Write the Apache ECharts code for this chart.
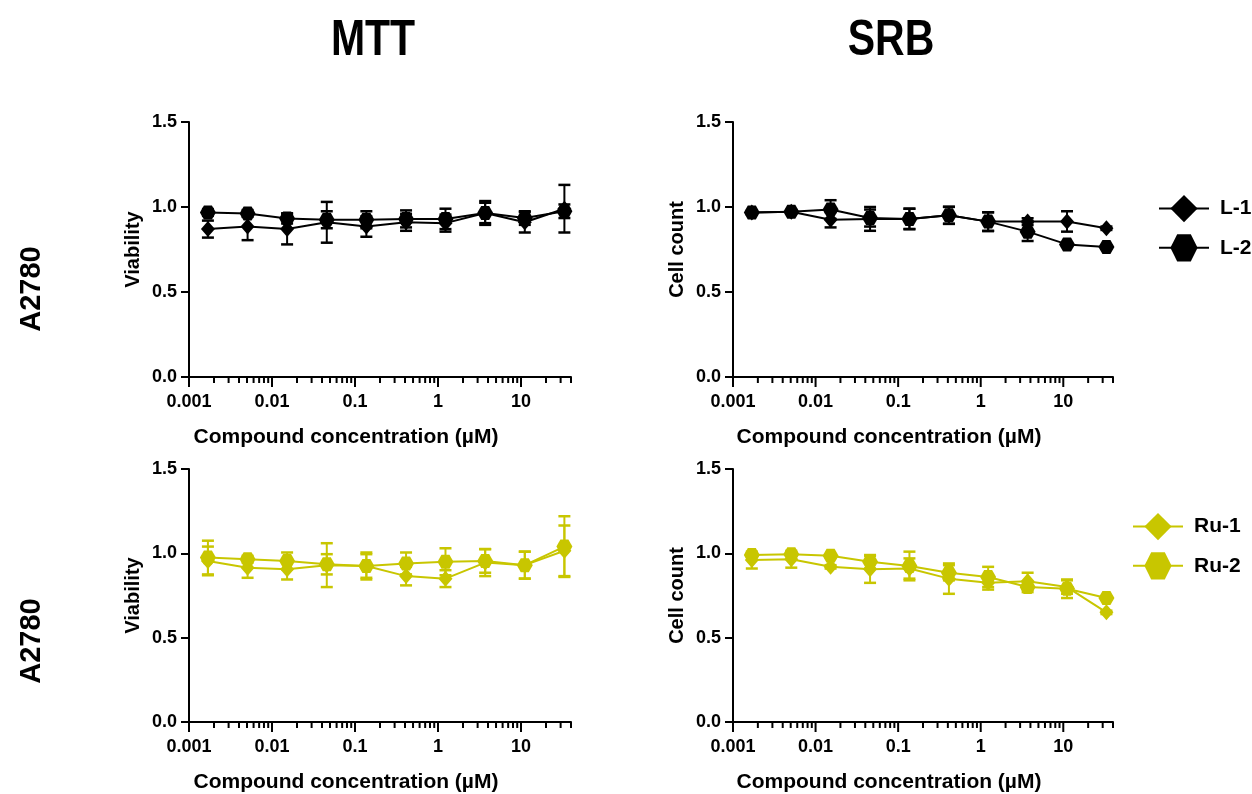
<!DOCTYPE html>
<html><head><meta charset="utf-8">
<script src="https://cdn.jsdelivr.net/npm/echarts@6/dist/echarts.min.js"></script>
<style>html,body{margin:0;padding:0;background:#fff}#c{width:1252px;height:794px}</style>
</head><body><div id="c"></div>
<script>
// ---- data ----
const conc = [0.00169, 0.00508, 0.0152, 0.0457, 0.137, 0.412, 1.23, 3.70, 11.1, 33.3];
const xTickLabels = [0.001, 0.01, 0.1, 1, 10];
const yTickLabels = ['0.0', '0.5', '1.0', '1.5'];
const colTitles = ['MTT', 'SRB'];
const rowTitles = ['A2780', 'A2780'];
const xTitle = 'Compound concentration (µM)';

const mttL1    = [0.87, 0.885, 0.87, 0.91, 0.885, 0.91, 0.905, 0.965, 0.91, 0.99];
const mttL1Err = [0.05, 0.08, 0.09, 0.12, 0.06, 0.05, 0.05, 0.07, 0.06, 0.14];
const mttL2    = [0.968, 0.962, 0.933, 0.925, 0.925, 0.93, 0.93, 0.965, 0.935, 0.975];
const mttL2Err = [0.02, 0.02, 0.03, 0.05, 0.05, 0.05, 0.06, 0.06, 0.04, 0.04];

const srbL1    = [0.967, 0.972, 0.925, 0.93, 0.93, 0.951, 0.914, 0.914, 0.915, 0.875];
const srbL1Err = [0.01, 0.01, 0.045, 0.07, 0.06, 0.05, 0.055, 0.02, 0.06, 0.01];
const srbL2    = [0.967, 0.972, 0.985, 0.935, 0.93, 0.951, 0.914, 0.855, 0.78, 0.765];
const srbL2Err = [0.01, 0.01, 0.055, 0.05, 0.06, 0.05, 0.055, 0.055, 0.01, 0.01];

const mttRu1    = [0.955, 0.915, 0.905, 0.93, 0.925, 0.865, 0.85, 0.945, 0.93, 1.015];
const mttRu1Err = [0.085, 0.06, 0.06, 0.13, 0.07, 0.055, 0.05, 0.08, 0.08, 0.15];
const mttRu2    = [0.975, 0.965, 0.955, 0.935, 0.925, 0.94, 0.95, 0.955, 0.93, 1.04];
const mttRu2Err = [0.10, 0.02, 0.05, 0.06, 0.08, 0.065, 0.08, 0.07, 0.08, 0.18];

const srbRu1    = [0.96, 0.965, 0.92, 0.905, 0.91, 0.85, 0.825, 0.835, 0.80, 0.65];
const srbRu1Err = [0.05, 0.05, 0.01, 0.08, 0.06, 0.09, 0.04, 0.05, 0.04, 0.01];
const srbRu2    = [0.99, 0.995, 0.985, 0.95, 0.925, 0.885, 0.86, 0.80, 0.79, 0.735];
const srbRu2Err = [0.01, 0.01, 0.01, 0.04, 0.085, 0.045, 0.06, 0.03, 0.055, 0.01];

// ---- styling ----
const FONT = '"Liberation Sans", Arial, sans-serif';
const BLACK = '#000000';
const YEL = '#c8c600';
const HEX = 'path://M-1,0 L-0.5,-0.866 L0.5,-0.866 L1,0 L0.5,0.866 L-0.5,0.866 Z';

const minorTicks = [];
[0.001, 0.01, 0.1, 1, 10].forEach(d => { for (let k = 2; k <= 9; k++) { const v = +(d * k).toPrecision(3); if (v <= 40) minorTicks.push(v); } });

const grids = [
  {left: 189, top: 122, width: 382, height: 255},
  {left: 733, top: 122, width: 380, height: 255},
  {left: 189, top: 469, width: 382, height: 255},
  {left: 733, top: 469, width: 380, height: 255}
];
const yNames = ['Viability', 'Cell count', 'Viability', 'Cell count'];

const xAxes = grids.map((g, i) => ({
  type: 'log', gridIndex: i, min: 0.001, max: 40, logBase: 10,
  name: xTitle, nameLocation: 'middle', nameGap: 50,
  nameTextStyle: {fontFamily: FONT, fontWeight: 'bold', fontSize: 21, color: '#000', padding: [0, 68, 0, 0]},
  axisLine: {lineStyle: {color: '#000', width: 2}},
  axisTick: {show: false},
  splitLine: {show: false},
  axisLabel: {
    fontFamily: FONT, fontWeight: 'bold', fontSize: 18, color: '#000', margin: 16,
    showMaxLabel: false,
    formatter: v => { const s = String(+(+v).toPrecision(6)); return xTickLabels.map(String).indexOf(s) >= 0 ? s : ''; }
  }
}));
const yAxes = grids.map((g, i) => ({
  type: 'value', gridIndex: i, min: 0, max: 1.5, interval: 0.5,
  name: yNames[i], nameLocation: 'middle', nameGap: 46,
  nameTextStyle: {fontFamily: FONT, fontWeight: 'bold', fontSize: 20, color: '#000'},
  axisLine: {show: true, lineStyle: {color: '#000', width: 2}},
  axisTick: {show: true, length: 8, lineStyle: {color: '#000', width: 2}},
  splitLine: {show: false},
  axisLabel: {fontFamily: FONT, fontWeight: 'bold', fontSize: 18, color: '#000', margin: 12,
    formatter: v => yTickLabels[Math.round(v / 0.5)]}
}));

function tickSeries(i, vals, len) {
  return {
    type: 'custom', xAxisIndex: i, yAxisIndex: i, silent: true, clip: false, z: 5,
    data: vals.map(v => [v, 0]),
    renderItem: (params, api) => {
      const p = api.coord([api.value(0), 0]);
      return {type: 'line', shape: {x1: p[0], y1: p[1], x2: p[0], y2: p[1] + len},
        style: {stroke: '#000', lineWidth: 2}};
    }
  };
}
function errSeries(i, name, vals, errs, color) {
  return {
    type: 'custom', name: name + ' SD', xAxisIndex: i, yAxisIndex: i, silent: true, z: 3,
    data: conc.map((c, k) => [c, vals[k] - errs[k], vals[k] + errs[k]]),
    renderItem: (params, api) => {
      const x = api.value(0);
      const lo = api.coord([x, api.value(1)]);
      const hi = api.coord([x, api.value(2)]);
      const w = 6;
      return {type: 'group', children: [
        {type: 'line', shape: {x1: lo[0], y1: lo[1], x2: hi[0], y2: hi[1]}, style: {stroke: color, lineWidth: 2}},
        {type: 'line', shape: {x1: hi[0] - w, y1: hi[1], x2: hi[0] + w, y2: hi[1]}, style: {stroke: color, lineWidth: 2.5}},
        {type: 'line', shape: {x1: lo[0] - w, y1: lo[1], x2: lo[0] + w, y2: lo[1]}, style: {stroke: color, lineWidth: 2.5}}
      ]};
    }
  };
}
function lineSeries(i, name, vals, color, symbol, size) {
  return {
    type: 'line', name: name, xAxisIndex: i, yAxisIndex: i, z: 4,
    data: conc.map((c, k) => [c, vals[k]]),
    symbol: symbol, symbolSize: size, showSymbol: true,
    lineStyle: {color: color, width: 2},
    itemStyle: {color: color, borderWidth: 0}
  };
}

const panels = [
  [0, 'L-1', mttL1, mttL1Err, 'L-2', mttL2, mttL2Err, BLACK],
  [1, 'L-1', srbL1, srbL1Err, 'L-2', srbL2, srbL2Err, BLACK],
  [2, 'Ru-1', mttRu1, mttRu1Err, 'Ru-2', mttRu2, mttRu2Err, YEL],
  [3, 'Ru-1', srbRu1, srbRu1Err, 'Ru-2', srbRu2, srbRu2Err, YEL]
];
const series = [];
panels.forEach(([i, n1, v1, e1, n2, v2, e2, col]) => {
  series.push(tickSeries(i, xTickLabels, 10));
  series.push(tickSeries(i, minorTicks, 6));
  series.push(errSeries(i, n1, v1, e1, col));
  series.push(errSeries(i, n2, v2, e2, col));
  series.push(lineSeries(i, n1, v1, col, 'diamond', [14, 16]));
  series.push(lineSeries(i, n2, v2, col, HEX, [16, 14]));
});

const legendBase = {
  orient: 'vertical', itemWidth: 50, itemHeight: 34, itemGap: 12, selectedMode: false,
  textStyle: {fontFamily: FONT, fontWeight: 'bold', fontSize: 21, color: '#000', padding: [0, 0, 0, 6]}
};

const TITLE_FONT = 'bold 50px "Liberation Sans", Arial';
const option = {
  animation: false,
  backgroundColor: '#ffffff',
  grid: grids,
  xAxis: xAxes,
  yAxis: yAxes,
  legend: [
    Object.assign({}, legendBase, {left: 1153, top: 190, data: ['L-1', 'L-2']}),
    Object.assign({}, legendBase, {left: 1127, top: 508, data: ['Ru-1', 'Ru-2']})
  ],
  graphic: [
    {type: 'text', x: 373, y: 41, scaleX: 0.82, style: {text: colTitles[0], font: TITLE_FONT, align: 'center', verticalAlign: 'middle', fill: '#000'}},
    {type: 'text', x: 891, y: 41, scaleX: 0.82, style: {text: colTitles[1], font: TITLE_FONT, align: 'center', verticalAlign: 'middle', fill: '#000'}},
    {type: 'text', x: 32, y: 289, rotation: Math.PI / 2, style: {text: rowTitles[0], font: 'bold 29px "Liberation Sans", Arial', align: 'center', verticalAlign: 'middle', fill: '#000'}},
    {type: 'text', x: 32, y: 641, rotation: Math.PI / 2, style: {text: rowTitles[1], font: 'bold 29px "Liberation Sans", Arial', align: 'center', verticalAlign: 'middle', fill: '#000'}}
  ],
  series: series
};
const chart = echarts.init(document.getElementById('c'), null, {renderer: 'canvas'});
chart.setOption(option);
</script>
</body></html>
